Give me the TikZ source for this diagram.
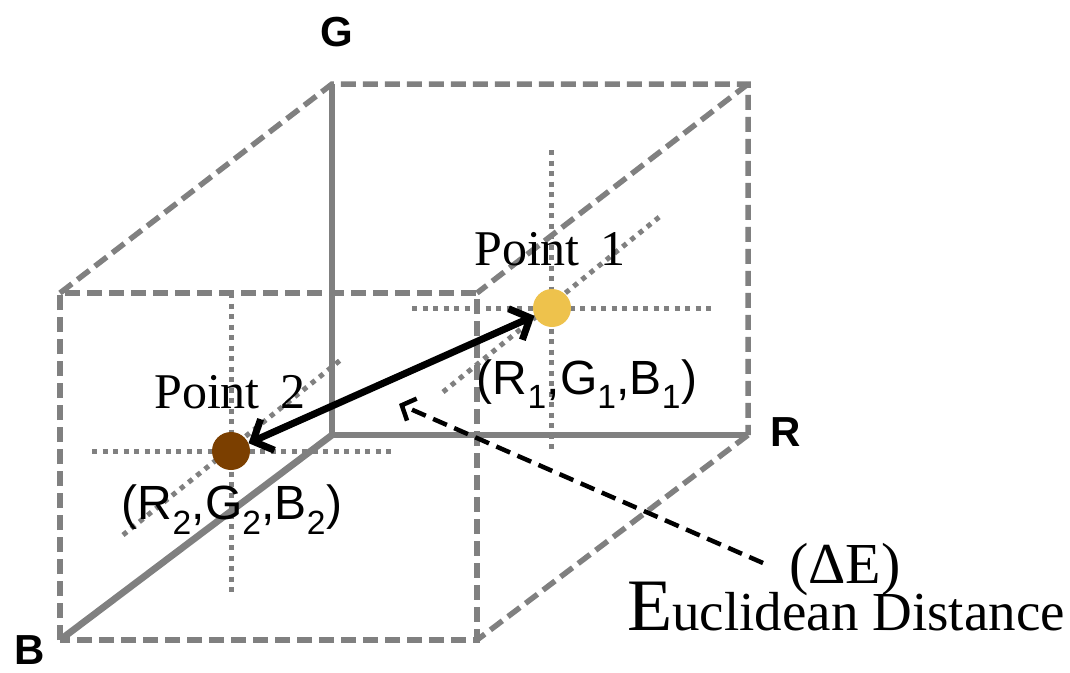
\documentclass[tikz,border=0pt]{standalone}
\usepackage{fontspec}
\setmainfont{Liberation Serif}
\setsansfont{Liberation Sans}
\usetikzlibrary{arrows.meta}
\definecolor{axisgray}{HTML}{808080}
\definecolor{pointone}{HTML}{EEC24C}
\definecolor{pointtwo}{HTML}{7B3F00}
\begin{document}
\begin{tikzpicture}[x=1pt,y=-1pt,
  axisline/.style={draw=axisgray, line width=6.8pt},
  edgeline/.style={draw=axisgray, line width=5.5pt, dash pattern=on 15pt off 7pt},
  dotline/.style={draw=axisgray, line width=5pt, dash pattern=on 5pt off 5.5pt},
  ptnode/.style={circle, inner sep=0pt, minimum size=38pt},
  axlabel/.style={font=\sffamily\bfseries\fontsize{42}{42}\selectfont, inner sep=0pt},
  ptlabel/.style={font=\fontsize{50}{50}\selectfont, inner sep=0pt},
  coordlabel/.style={font=\sffamily\fontsize{48}{48}\selectfont, inner sep=0pt},
  distarrow/.style={line width=7pt, {Straight Barb[length=16pt,width=34pt]}-{Straight Barb[length=16pt,width=34pt]}},
  callout/.style={line width=4.5pt, dash pattern=on 15pt off 8pt, -{Straight Barb[length=11pt,width=24pt]}}
]
\useasboundingbox (0,0) rectangle (1070,672);
% cube corners
\coordinate (O) at (332,435);
\coordinate (Gt) at (332,84);
\coordinate (BR) at (748,84);
\coordinate (Rr) at (748,435);
\coordinate (Bb) at (60,640);
\coordinate (FTL) at (60,293);
\coordinate (FTR) at (477,293);
\coordinate (FBR) at (477,640);
% dashed edges
\draw[edgeline] (FTL) -- (Gt) -- (BR) -- (Rr);
\draw[edgeline] (BR) -- (FTR);
\draw[edgeline] (Rr) -- (FBR);
\draw[edgeline] (Bb) -- (FTL) -- (FTR) -- (FBR) -- (Bb);
% dotted guides point 1
\draw[dotline] (412,308) -- (714,308);
\draw[dotline] (551,150) -- (551,452);
\draw[dotline] (443,392) -- (663,214);
% dotted guides point 2
\draw[dotline] (92,451) -- (393,451);
\draw[dotline] (231,293) -- (231,596);
\draw[dotline] (123,535) -- (343,358);
% axes
\draw[axisline] (O) -- (Gt);
\draw[axisline] (O) -- (Rr);
\draw[axisline] (O) -- (Bb);
% axis labels
\node[axlabel] (lG) at (337,32) {G};
\node[axlabel] (lR) at (786,432) {R};
\node[axlabel] (lB) at (30,650) {B};
% points
\node[ptnode, fill=pointone] (p1) at (552,308) {};
\node[ptnode, fill=pointtwo] (p2) at (231,451) {};
\node[ptlabel] (t1) at (550,249) {Point\, 1};
\node[ptlabel] (t2) at (230,392) {Point\, 2};
\node[coordlabel] (c1) at (587,384) {(R\textsubscript{1},G\textsubscript{1},B\textsubscript{1})};
\node[coordlabel] (c2) at (232,510) {(R\textsubscript{2},G\textsubscript{2},B\textsubscript{2})};
% distance arrow
\draw[distarrow] (p2) -- (p1);
% label and callout
\node[font=\fontsize{58}{58}\selectfont, inner sep=0pt] (dE) at (845,570) {(ΔE)};
\node[anchor=base west, inner sep=0pt] (ed) at (627,630) {{\fontsize{74}{74}\selectfont E}{\fontsize{55}{55}\selectfont uclidean Distance}};
\coordinate (cs) at (763,563);
\coordinate (ce) at (399,404);
\draw[callout] (cs) -- (ce);
\end{tikzpicture}
\end{document}
